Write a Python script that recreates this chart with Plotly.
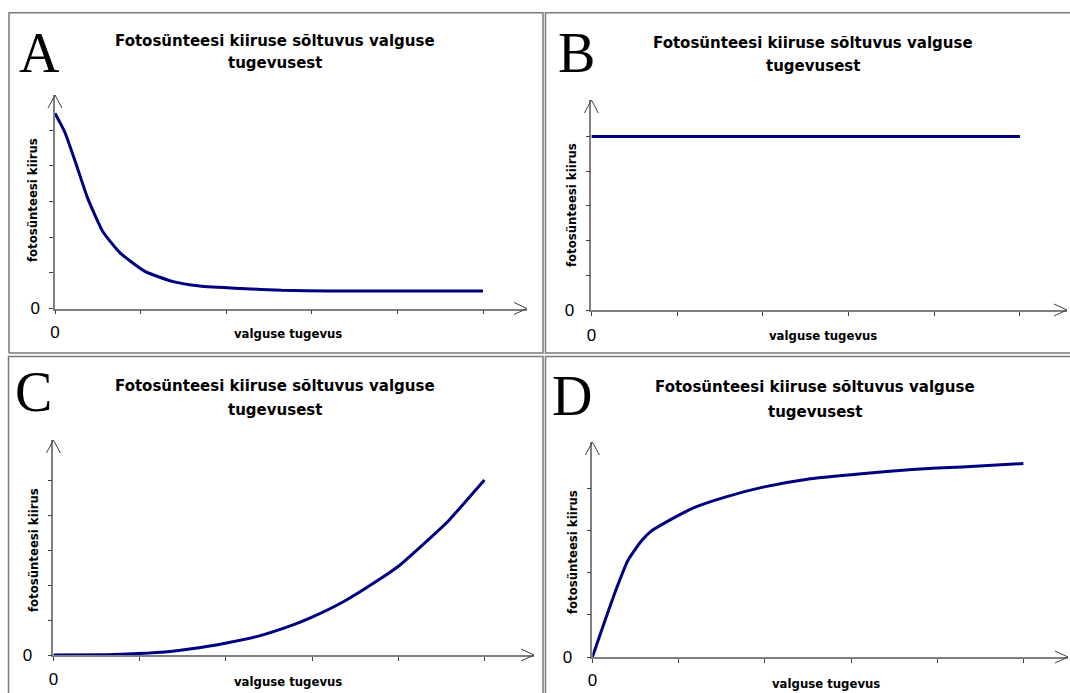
import plotly.graph_objects as go

W, H = 1070, 693

# ---------------- data (tick units) ----------------
panel_letters = ["A", "B", "C", "D"]
title_line1 = "Fotosünteesi kiiruse sõltuvus valguse"
title_line2 = "tugevusest"
y_title = "fotosünteesi kiirus"
x_title = "valguse tugevus"

x_tick_vals = [0, 1, 2, 3, 4, 5]
y_tick_vals_abc = [0, 1, 2, 3, 4, 5]
y_tick_vals_d = [0, 1, 2, 3, 4]
zero_label = "0"

a_x = [0, 0.06, 0.12, 0.26, 0.38, 0.56, 0.76, 1.05, 1.37, 1.69, 2.17, 2.65, 3.2, 4.0, 5.0]
a_y = [5.47, 5.2, 4.91, 3.95, 3.1, 2.15, 1.56, 1.04, 0.76, 0.63, 0.56, 0.51, 0.49, 0.49, 0.49]

b_x = [0, 5]
b_y = [5, 5]

c_x = [0, 0.6, 0.98, 1.38, 1.58, 1.98, 2.38, 2.78, 2.98, 3.37, 3.77, 4.01, 4.37, 4.57, 5.0]
c_y = [0, 0.01, 0.04, 0.11, 0.17, 0.33, 0.54, 0.86, 1.06, 1.53, 2.14, 2.55, 3.34, 3.80, 5.0]

d_x = [0, 0.137, 0.29, 0.41, 0.57, 0.69, 0.96, 1.16, 1.55, 1.98, 2.53, 3.12, 3.71, 4.29, 5.0]
d_y = [0.0, 0.81, 1.68, 2.28, 2.75, 2.99, 3.31, 3.52, 3.79, 4.02, 4.22, 4.34, 4.44, 4.5, 4.58]

series = {"A": (a_x, a_y, "spline"), "B": (b_x, b_y, "linear"),
          "C": (c_x, c_y, "spline"), "D": (d_x, d_y, "spline")}

# ---------------- layout geometry (pixels) ----------------
geom = {
    "A": dict(x0=55, y0=308.5, ux=85.6, uy=35.7, xtip=527, ytop=95,
              frame=[(9, 353), (9, 12.7), (543, 12.7), (543, 353), (9, 353)],
              letter=(39, 53), t1=(275, 41), t2=(275, 63),
              ytl=(33, 200), xtl=(288, 333), ystand=6, xstand=3, yt=y_tick_vals_abc),
    "B": dict(x0=591.4, y0=310, ux=85.7, uy=34.7, xtip=1067, ytop=100,
              frame=[(1070, 353), (545.5, 353), (545.5, 12.7), (1070, 12.7)],
              letter=(576, 53), t1=(813, 43), t2=(813, 66),
              ytl=(572, 205), xtl=(823, 335), ystand=8, xstand=5, yt=y_tick_vals_abc),
    "C": dict(x0=53.4, y0=655, ux=86.2, uy=35.0, xtip=534, ytop=440,
              frame=[(8.5, 693), (8.5, 356.5), (543, 356.5), (543, 693)],
              letter=(33.5, 392), t1=(275, 386), t2=(275, 410),
              ytl=(33, 550), xtl=(288, 681), ystand=12, xstand=4, yt=y_tick_vals_abc),
    "D": dict(x0=592.4, y0=657, ux=86.2, uy=42.25, xtip=1068, ytop=442,
              frame=[(545.5, 693), (545.5, 356.5), (1070, 356.5)],
              letter=(572, 396), t1=(815, 387), t2=(815, 412),
              ytl=(572, 552), xtl=(826, 683), ystand=11, xstand=3, yt=y_tick_vals_d),
}


def px(x):
    return x / W


def py(y):
    return 1 - y / H


LINE_COLOR = "#000080"
AXIS_COLOR = "#808080"
TICK_COLOR = "#404040"
TITLE_FONT = dict(family="DejaVu Sans, Verdana, sans-serif", size=15, color="black", weight="bold")
AXT_FONT = dict(family="Liberation Sans Narrow, DejaVu Sans Condensed, Arial Narrow, sans-serif",
                size=13, color="black", weight="bold")
ZERO_FONT = dict(family="Liberation Sans, Arial, sans-serif", size=17, color="black")
LETTER_FONT = dict(family="Liberation Serif, Times New Roman, serif", size=56, color="black")

fig = go.Figure()
shapes = []
annotations = []

for i, key in enumerate(panel_letters):
    g = geom[key]
    n = i + 1
    xa = "x" if n == 1 else f"x{n}"
    ya = "y" if n == 1 else f"y{n}"
    xs, ys, shape = series[key]
    fig.add_trace(go.Scatter(
        x=xs, y=ys, mode="lines", xaxis=xa, yaxis=ya, cliponaxis=False,
        line=dict(color=LINE_COLOR, width=3, shape=shape, smoothing=0.5),
        hoverinfo="skip", showlegend=False))

    xmax = (g["xtip"] - g["x0"]) / g["ux"]
    ymax = (g["y0"] - g["ytop"]) / g["uy"]
    xname = "xaxis" if n == 1 else f"xaxis{n}"
    yname = "yaxis" if n == 1 else f"yaxis{n}"
    fig.update_layout({
        xname: dict(domain=[px(g["x0"]), px(g["xtip"])], range=[0, xmax], anchor=ya,
                    automargin=False,
                    showline=True, linecolor=AXIS_COLOR, linewidth=1.5,
                    ticks="outside", ticklen=4, tickcolor=TICK_COLOR, tickwidth=1,
                    tickvals=x_tick_vals, ticktext=[zero_label] + [""] * (len(x_tick_vals) - 1),
                    tickfont=ZERO_FONT, ticklabelstandoff=g["xstand"],
                    showgrid=False, zeroline=False, fixedrange=True),
        yname: dict(domain=[py(g["y0"]), py(g["ytop"])], range=[0, ymax], anchor=xa,
                    automargin=False,
                    showline=True, linecolor=AXIS_COLOR, linewidth=1.5,
                    ticks="outside", ticklen=4, tickcolor=TICK_COLOR, tickwidth=1,
                    tickvals=g["yt"], ticktext=[zero_label] + [""] * (len(g["yt"]) - 1),
                    tickfont=ZERO_FONT, ticklabelstandoff=g["ystand"],
                    showgrid=False, zeroline=False, fixedrange=True),
    })

    # panel frame (kept inside the page)
    pts = g["frame"]
    path = "M " + " L ".join(f"{px(x)},{py(y)}" for x, y in pts)
    shapes.append(dict(type="path", xref="paper", yref="paper", path=path,
                       line=dict(color="#7a7a7a", width=1.5), layer="below"))
    # arrow heads
    shapes.append(dict(type="path", xref="paper", yref="paper",
                       path=f"M {px(g['xtip'] - 13)},{py(g['y0'] - 6)} L {px(g['xtip'])},{py(g['y0'])} "
                            f"L {px(g['xtip'] - 13)},{py(g['y0'] + 6)}",
                       line=dict(color=TICK_COLOR, width=1)))
    shapes.append(dict(type="path", xref="paper", yref="paper",
                       path=f"M {px(g['x0'] - 7)},{py(g['ytop'] + 13)} L {px(g['x0'])},{py(g['ytop'])} "
                            f"L {px(g['x0'] + 7)},{py(g['ytop'] + 13)}",
                       line=dict(color=TICK_COLOR, width=1)))

    # texts
    annotations.append(dict(text=key, x=px(g["letter"][0]), y=py(g["letter"][1]),
                            xref="paper", yref="paper", showarrow=False,
                            xanchor="center", yanchor="middle", font=LETTER_FONT))
    annotations.append(dict(text=title_line1, x=px(g["t1"][0]), y=py(g["t1"][1]),
                            xref="paper", yref="paper", showarrow=False,
                            xanchor="center", yanchor="middle", font=TITLE_FONT))
    annotations.append(dict(text=title_line2, x=px(g["t2"][0]), y=py(g["t2"][1]),
                            xref="paper", yref="paper", showarrow=False,
                            xanchor="center", yanchor="middle", font=TITLE_FONT))
    annotations.append(dict(text=y_title, x=px(g["ytl"][0]), y=py(g["ytl"][1]),
                            xref="paper", yref="paper", showarrow=False, textangle=-90,
                            xanchor="center", yanchor="middle", font=AXT_FONT))
    annotations.append(dict(text=x_title, x=px(g["xtl"][0]), y=py(g["xtl"][1]),
                            xref="paper", yref="paper", showarrow=False,
                            xanchor="center", yanchor="middle", font=AXT_FONT))

fig.update_layout(width=W, height=H, margin=dict(l=0, r=0, t=0, b=0, autoexpand=False),
                  paper_bgcolor="white", plot_bgcolor="white",
                  shapes=shapes, annotations=annotations, showlegend=False)

fig.write_html("out.html", config={"displayModeBar": False},
               post_script="document.body.style.margin='0';document.body.style.overflow='hidden';")
